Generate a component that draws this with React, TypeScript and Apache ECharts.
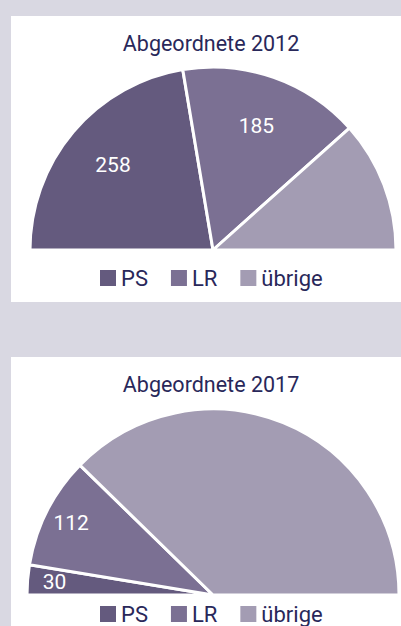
import React, { useEffect, useRef } from "react";
import * as echarts from "echarts";

const parties = ["PS", "LR", "übrige"];
const seats2012 = [258, 185, 134];
const seats2017 = [30, 112, 435];
const labels2012 = ["258", "185", ""];
const labels2017 = ["30", "112", ""];
const titles = ["Abgeordnete 2012", "Abgeordnete 2017"];
const colors = ["#645a7e", "#7b7093", "#a39cb3"];

const FONT = "Roboto, 'Noto Sans', sans-serif";
const TEXT_DARK = "#29285a";

function realPie(values: number[], center: [number, number], radius: number) {
  return {
    type: "pie",
    center,
    radius: [0, radius],
    startAngle: 180,
    endAngle: 0,
    clockwise: true,
    silent: true,
    label: { show: false },
    labelLine: { show: false },
    itemStyle: { borderColor: "#ffffff", borderWidth: 3 },
    data: parties.map((p, i) => ({
      name: p,
      value: values[i],
      itemStyle: { color: colors[i] },
    })),
  };
}

function labelPie(values: number[], lbls: string[], center: [number, number], r0: number, r1: number) {
  return {
    type: "pie",
    center,
    radius: [r0, r1],
    startAngle: 180,
    endAngle: 0,
    clockwise: true,
    silent: true,
    labelLine: { show: false },
    itemStyle: { color: "rgba(0,0,0,0)", borderWidth: 0 },
    label: {
      show: true,
      position: "inside",
      color: "#ffffff",
      fontSize: 21,
      fontFamily: FONT,
      formatter: (p: any) => lbls[p.dataIndex],
    },
    data: parties.map((p, i) => ({ name: p, value: values[i] })),
  };
}

export default function App() {
  const ref = useRef<HTMLDivElement>(null);
  useEffect(() => {
    document.body.style.margin = "0";
    const chart = echarts.init(ref.current!, null, { renderer: "svg" });
    const legendCommon = {
      data: parties,
      orient: "horizontal",
      left: 100,
      itemWidth: 16,
      itemHeight: 16,
      itemGap: 23,
      padding: 0,
      icon: "rect",
      selectedMode: false,
      itemStyle: { borderWidth: 0 },
      textStyle: { fontSize: 22, fontFamily: FONT, color: TEXT_DARK },
    };
    chart.setOption({
      animation: false,
      backgroundColor: "#d9d8e2",
      graphic: [
        { type: "rect", shape: { x: 11, y: 16, width: 390, height: 286 }, style: { fill: "#ffffff" }, z: -10 },
        { type: "rect", shape: { x: 11, y: 357, width: 390, height: 269 }, style: { fill: "#ffffff" }, z: -10 },
        {
          type: "text",
          x: 211,
          y: 32,
          style: { text: titles[0], fontSize: 21.5, fontFamily: FONT, fill: TEXT_DARK, textAlign: "center", textVerticalAlign: "top" },
        },
        {
          type: "text",
          x: 211,
          y: 373,
          style: { text: titles[1], fontSize: 21.5, fontFamily: FONT, fill: TEXT_DARK, textAlign: "center", textVerticalAlign: "top" },
        },
      ],
      legend: [
        { ...legendCommon, top: 267 },
        { ...legendCommon, top: 603 },
      ],
      series: [
        realPie(seats2012, [213, 250], 183),
        realPie(seats2017, [213, 595], 186),
        labelPie(seats2012, labels2012, [213, 250], 74, 182),
        labelPie(seats2017, labels2017, [213, 595], 127, 185),
      ],
    });
    return () => chart.dispose();
  }, []);
  return (
    <div
      ref={ref}
      style={{ position: "absolute", left: 0, top: 0, width: 401, height: 626 }}
    />
  );
}
